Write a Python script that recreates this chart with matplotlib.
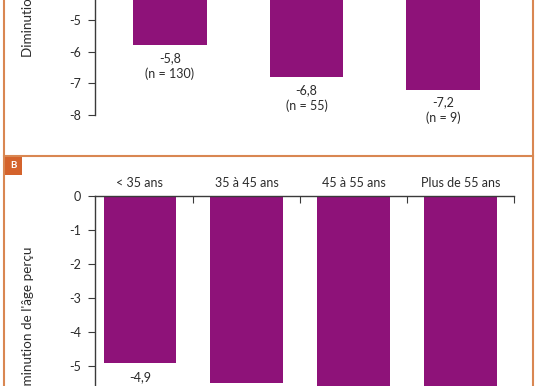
import matplotlib
matplotlib.use("Agg")
import matplotlib.pyplot as plt
from matplotlib.patches import Rectangle
from matplotlib.lines import Line2D

# ---------------- data ----------------
a_values = [-5.8, -6.8, -7.2]
a_value_labels = ["-5,8", "-6,8", "-7,2"]
a_counts = [130, 55, 9]

b_categories = ["< 35 ans", "35 à 45 ans", "45 à 55 ans", "Plus de 55 ans"]
b_values = [-4.9, -5.5, -6.1, -6.6]
b_value_labels = ["-4,9", "-5,5", "-6,1", "-6,6"]

a_y_ticks = [-5, -6, -7, -8]
b_y_ticks = [0, -1, -2, -3, -4, -5]
y_label = "Diminution de l'âge perçu"
panel_b_letter = "B"

# ---------------- style ----------------
W, H = 536, 386
DPI = 100
BAR = "#8E1279"
ORANGE_BOX = "#D4632C"
ORANGE_LINE = "#D98752"
AXC = "#3a3a3a"
TXT = "#2b2b2b"
plt.rcParams['font.family'] = ['Lato', 'DejaVu Sans']
FS = 9
FS_LABEL = 9.7


def fx(px):
    return px / W


def fy(px_from_top):
    return (H - px_from_top) / H


fig = plt.figure(figsize=(W / DPI, H / DPI), dpi=DPI)
fig.patch.set_facecolor("white")

# ---------------- panel A (visible part: top of figure down to -8) ----------------
a_left, a_right = 95, 518
a_unit = 31.67
a_row5 = 20.0                     # pixel row of -5
a_top_val = -5 + a_row5 / a_unit  # value at top edge of the figure
a_row8 = a_row5 + 3 * a_unit
axA = fig.add_axes([fx(a_left), fy(a_row8), fx(a_right - a_left), a_row8 / H])
xa = list(range(len(a_values)))
axA.bar(xa, a_values, width=0.54, color=BAR, edgecolor="none")
axA.set_xlim(-0.549, 2.549)
axA.set_ylim(-8, a_top_val)
for s in ["top", "right", "bottom"]:
    axA.spines[s].set_visible(False)
axA.spines["left"].set_color(AXC)
axA.spines["left"].set_linewidth(1.0)
axA.set_xticks([])
axA.set_yticks(a_y_ticks)
axA.set_yticklabels([str(t) for t in a_y_ticks], fontsize=FS, color=TXT)
axA.tick_params(axis="y", direction="out", length=5, width=0.8, color=AXC, pad=5)
for i, (v, lab, n) in enumerate(zip(a_values, a_value_labels, a_counts)):
    axA.annotate(f"{lab}\n(n = {n})", xy=(i, v), xytext=(0, -5),
                 textcoords="offset points", ha="center", va="top",
                 fontsize=FS, color=TXT, linespacing=1.3)

# ---------------- panel B (visible part: 0 down to bottom of figure) ----------------
b_left, b_right = 95, 513.7
b_y0 = 196
b_unit = 34
b_bottom_val = -(H - b_y0) / b_unit
axB = fig.add_axes([fx(b_left), 0, fx(b_right - b_left), (H - b_y0) / H])
xb = list(range(len(b_values)))
axB.bar(xb, b_values, width=0.68, color=BAR, edgecolor="none")
axB.set_xlim(-0.42, 3.5)
axB.set_ylim(b_bottom_val, 0)
for s in ["right", "bottom"]:
    axB.spines[s].set_visible(False)
for s in ["left", "top"]:
    axB.spines[s].set_color(AXC)
    axB.spines[s].set_linewidth(1.0)
axB.xaxis.set_ticks_position("top")
axB.set_xticks([i + 0.5 for i in xb])
axB.set_xticklabels([])
axB.set_xticks(xb, minor=True)
axB.set_xticklabels(b_categories, minor=True, fontsize=FS, color=TXT)
axB.tick_params(axis="x", which="major", direction="in", length=5, width=0.8, color=AXC)
axB.tick_params(axis="x", which="minor", length=0, pad=5)
axB.set_yticks(b_y_ticks)
axB.set_yticklabels([str(t) for t in b_y_ticks], fontsize=FS, color=TXT)
axB.tick_params(axis="y", direction="out", length=5, width=0.8, color=AXC, pad=5)
for i, (v, lab) in enumerate(zip(b_values, b_value_labels)):
    # drawn only when the bar end lies inside the visible area
    axB.annotate(lab, xy=(i, v), xytext=(0, -6),
                 textcoords="offset points", ha="center", va="top",
                 fontsize=FS, color=TXT, annotation_clip=True)

# ---------------- y labels ----------------
fig.text(fx(28), fy(57), y_label, rotation=90, ha="center", va="bottom",
         fontsize=FS_LABEL, color=TXT)
fig.text(fx(28), fy(247), y_label, rotation=90, ha="center", va="top",
         fontsize=FS_LABEL, color=TXT)

# ---------------- frame ----------------
fig.add_artist(Line2D([fx(4), fx(4)], [0, 1], transform=fig.transFigure,
                      color=ORANGE_LINE, lw=1.5))
fig.add_artist(Line2D([fx(533), fx(533)], [0, 1], transform=fig.transFigure,
                      color=ORANGE_LINE, lw=1.5))
fig.add_artist(Line2D([fx(4), fx(533)], [fy(156), fy(156)], transform=fig.transFigure,
                      color=ORANGE_LINE, lw=1.5))
fig.add_artist(Rectangle((fx(4), fy(175)), fx(18), 18 / H, transform=fig.transFigure,
                         facecolor=ORANGE_BOX, edgecolor="none"))
fig.text(fx(13), fy(166), panel_b_letter, ha="center", va="center",
         fontsize=7, color="white", fontweight="bold")

fig.savefig("out.png", dpi=DPI)
